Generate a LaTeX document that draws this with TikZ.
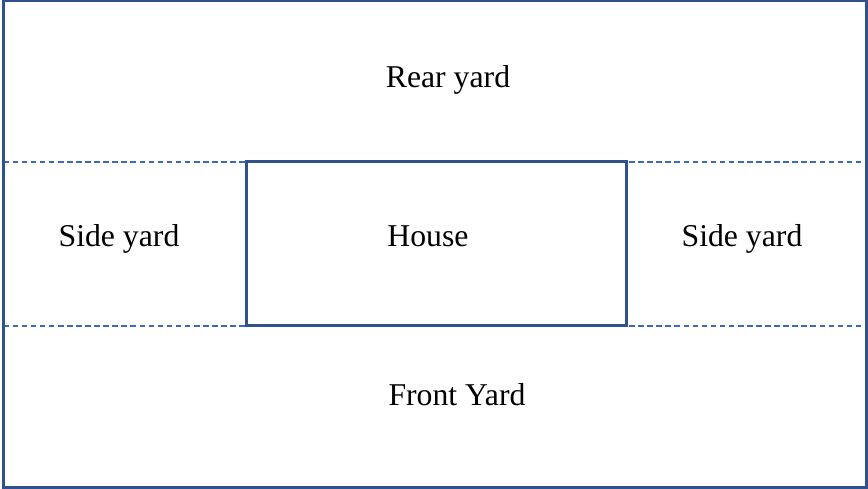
\documentclass[tikz,border=0pt]{standalone}
\usepackage{fontspec}
\setmainfont{Liberation Serif}
\usepackage{xcolor}
\usepackage{tikz}

\definecolor{edgeblue}{RGB}{47,82,143}
\definecolor{dashblue}{RGB}{60,105,190}

\tikzset{
  yardlabel/.style={font=\fontsize{23.8}{28}\selectfont, inner sep=0pt, anchor=base},
  lotline/.style={draw=edgeblue, line width=1.6pt},
  yardline/.style={draw=dashblue, line width=1.5pt, dash pattern=on 4.2pt off 2.6pt}
}

\begin{document}
\begin{tikzpicture}[x=0.75pt,y=-0.75pt]

\useasboundingbox (0,0) rectangle (868,489);

\coordinate (tl) at (3.5,1.2);
\coordinate (br) at (866.5,487.5);
\coordinate (r1) at (3.5,161.5);
\coordinate (r2) at (866.5,161.5);
\coordinate (f1) at (3.5,325.5);
\coordinate (f2) at (866.5,325.5);

\draw[yardline] (r1) -- (r2);
\draw[yardline] (f1) -- (f2);

\node[lotline, minimum width=380*0.75pt, minimum height=164*0.75pt, inner sep=0pt] (house) at (436.5,243.5) {};

\node[yardlabel] (hlabel) at (428,246.5) {House};
\node[yardlabel] (rear) at (448,87) {Rear yard};
\node[yardlabel] (sideL) at (119,246.5) {Side yard};
\node[yardlabel] (sideR) at (742,246.5) {Side yard};
\node[yardlabel] (front) at (457,405.5) {Front Yard};

\draw[lotline] (tl) rectangle (br);

\end{tikzpicture}
\end{document}
